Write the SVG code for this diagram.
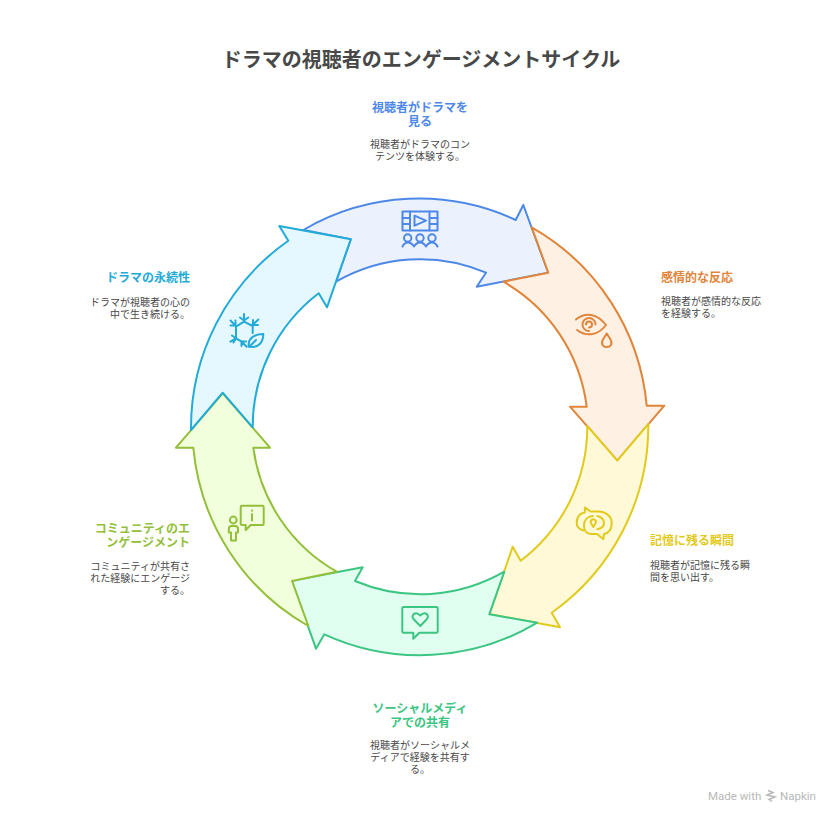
<svg xmlns="http://www.w3.org/2000/svg" width="840" height="823" viewBox="0 0 840 823">
<style>
text{font-family:"Noto Sans CJK JP","Noto Sans",sans-serif}
.t{font-size:20px;font-weight:700;fill:#484848;text-anchor:middle}
.l{font-size:12px;font-weight:700}
.d{font-size:10px;fill:#484848}
.m{text-anchor:middle}.e{text-anchor:end}
.a{stroke-width:2;stroke-linejoin:round}
.i{fill:none;stroke-width:2;stroke-linecap:round;stroke-linejoin:round}
.blue{color:#4e88e7}.orange{color:#e0853a}.yellow{color:#e2ca1c}.green{color:#3cc583}.olive{color:#93bf3a}.cyan{color:#22aad8}
.blue .a,.orange .a,.yellow .a,.green .a,.olive .a,.cyan .a,.i{stroke:currentColor}
.l{fill:currentColor}
</style>
<rect width="840" height="823" fill="#fff"/>
<text class="t" x="421" y="67">ドラマの視聴者のエンゲージメントサイクル</text>

<g id="node-watch" class="blue">
<path class="a" fill="#ebf2fe" d="M303.300 230A229 229 0 0 1 515.700 220L523.300 205L548.300 272.700L476.700 286.700L486 272.700A168 168 0 0 0 336 281.700L350.700 239.300Z"/>
<g class="i">
<rect x="402.500" y="211.500" width="35" height="19"/>
<path d="M410 211.500V230.500M429.500 211.500V230.500M402.500 218H410M402.500 224H410M429.500 218H437.500M429.500 224H437.500M414.500 215.700V225.700L426 220.700Z"/>
<circle cx="407.700" cy="238" r="3.700"/><circle cx="420" cy="238" r="3.700"/><circle cx="432" cy="238" r="3.700"/>
<path d="M402.500 246.500Q404.500 242.500 407.700 242.500Q411.500 242.500 414 246.500Q416.500 242.500 420 242.500Q423.500 242.500 426 246.500Q428.500 242.500 432 242.500Q435.500 242.500 437.500 246.500"/>
</g>
<text class="l m" x="420" y="111.500">視聴者がドラマを</text>
<text class="l m" x="420" y="125.500">見る</text>
<text class="d m" x="420" y="148">視聴者がドラマのコン</text>
<text class="d m" x="420" y="160">テンツを体験する。</text>
</g>

<g id="node-emotion" class="orange">
<path class="a" fill="#fff0e4" d="M531.700 227.300A229 229 0 0 1 646.700 405.700H664.300L617.300 460.700L570 406.700H586.700A168 168 0 0 0 503.300 281.700L548.300 272.700Z"/>
<g class="i">
<path d="M576 319.500C585 312 597 313 606 325C597 337 585 336 577 330"/>
<path d="M589 331A6.500 6.500 0 1 1 595.500 324.500M589 327.500A3 3 0 1 0 586 324.500"/>
<path d="M606.700 333.500L603 339.500C600.500 344 603 347 606.700 347C610.500 347 613 344 610.500 339.500Z"/>
</g>
<text class="l" x="661" y="281.500">感情的な反応</text>
<text class="d" x="661" y="305">視聴者が感情的な反応</text>
<text class="d" x="661" y="317">を経験する。</text>
</g>

<g id="node-memory" class="yellow">
<path class="a" fill="#fff9d8" d="M648.300 424A229 229 0 0 1 551.700 612.700L560 627.300L489.300 614L512.700 546.700L520.700 560.700A168 168 0 0 0 587.300 426L617.300 460.700Z"/>
<g class="i">
<path d="M583.300 530.500C578.500 529 576.700 526 576.700 523C576.700 517 579.500 513.500 584.800 512.500L585 507.500L590.500 511.500H598C605.500 511.500 611.700 516 611.700 523C611.700 530 608.500 533 604 534L603.300 539L597 534H591C586.500 534 584 530.500 584 525.500C584 520 587.500 516.500 592.700 516"/>
<path d="M597.300 516C601.500 517 604 520 604 523C604 526 601.500 528.500 597.300 529.300"/>
<path d="M593.300 527L591.200 523.500A2.600 2.600 0 1 1 595.400 523.500Z"/>
</g>
<text class="l" x="650" y="545">記憶に残る瞬間</text>
<text class="d" x="650" y="569">視聴者が記憶に残る瞬</text>
<text class="d" x="650" y="581">間を思い出す。</text>
</g>

<g id="node-share" class="green">
<path class="a" fill="#e0fff0" d="M537.300 622.700A229 229 0 0 1 324.300 634.300L316 648.700L291.700 580.700L362.700 567.300L355 581A168 168 0 0 0 504.300 571.700L489.300 614.300Z"/>
<g class="i">
<path d="M403.500 607H436.500Q437.700 607 437.700 608.200V631.500Q437.700 632.700 436.500 632.700H419.300L413.300 638.700V632.700H403.500Q402.300 632.700 402.300 631.500V608.200Q402.300 607 403.500 607Z"/>
<path d="M420.300 626L413.500 619C410.500 615 415.500 610.500 420.300 615.500C425 610.500 430 615 427 619Z"/>
</g>
<text class="l m" x="420" y="712.500">ソーシャルメディ</text>
<text class="l m" x="420" y="726.500">アでの共有</text>
<text class="d m" x="420" y="749">視聴者がソーシャルメ</text>
<text class="d m" x="420" y="761">ディアで経験を共有す</text>
<text class="d m" x="420" y="773">る。</text>
</g>

<g id="node-community" class="olive">
<path class="a" fill="#f2ffdc" d="M336.700 571.700L292 581L308.300 626A229 229 0 0 1 193.300 447.700H176L222.700 393.300L270 447.700H253.300A168 168 0 0 0 336.700 571.700Z"/>
<g class="i">
<path d="M242 505.700H262.500Q263.700 505.700 263.700 507V523.700Q263.700 525 262.500 525H250.700L245.700 530V525H242Q240.700 525 240.700 523.700V507Q240.700 505.700 242 505.700Z"/>
<path d="M252 510.500V510.700M252 514V520.500"/>
<circle cx="233.300" cy="520" r="3.400"/>
<path d="M228.800 532.500V529C228.800 527 230 526 231.500 526H235C236.800 526 238 527 238 529V532.500H236V540.500H231V532.500Z"/>
</g>
<text class="l e" x="190" y="532.500">コミュニティのエ</text>
<text class="l e" x="190" y="546.500">ンゲージメント</text>
<text class="d e" x="190" y="569.500">コミュニティが共有さ</text>
<text class="d e" x="190" y="581.500">れた経験にエンゲージ</text>
<text class="d e" x="190" y="593.500">する。</text>
</g>

<g id="node-lasting" class="cyan">
<path class="a" fill="#e6f8ff" d="M191 430A229 229 0 0 1 288.300 240.700L279.300 226L350.700 239.300L327 307.300L318.700 293.300A168 168 0 0 0 252.700 427.300L222.700 392.700Z"/>
<g class="i">
<path d="M252.700 333V326L244 321.700L236 326.700V338.300L241.700 341.700"/>
<path d="M244 314V321M240 317.500L244 320.500L248.300 317.500M230.500 320.500L236 326M230.500 325.500H235.500V320.500M258.300 319.500L252.700 325M253 320V325H258M230.500 341.700L236 338.300M232 335.500L236 338.300L233.500 342.500M246.700 346.700L241.700 341.700M241.500 346V341.500H246"/>
<path d="M249 347C247 339 254 334 263.300 334C263.500 342 258 348.500 250 346.500M249.500 346.500L256 340"/>
</g>
<text class="l e" x="190" y="281.500">ドラマの永続性</text>
<text class="d e" x="190" y="305.500">ドラマが視聴者の心の</text>
<text class="d e" x="190" y="317.500">中で生き続ける。</text>
</g>

<g id="watermark">
<text x="708" y="800" font-size="11.500" fill="#b8b8b8" style="font-family:Roboto,sans-serif">Made with</text>
<path d="M768 790.500L773 792.500L767 795L775 797L769 799.500L772 801.500" fill="none" stroke="#b8b8b8" stroke-width="1.500"/>
<text x="780" y="800" font-size="11.500" fill="#b8b8b8" style="font-family:Roboto,sans-serif">Napkin</text>
</g>
</svg>
